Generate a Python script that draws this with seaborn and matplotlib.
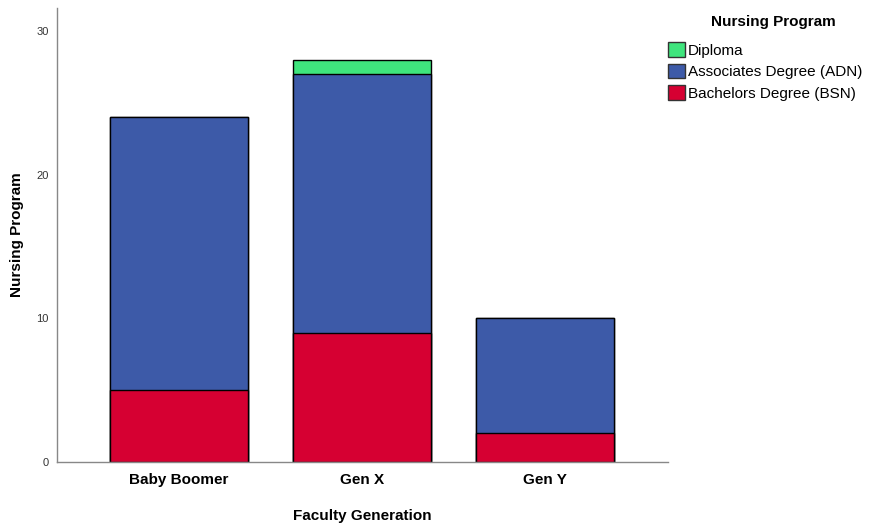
import pandas as pd
import matplotlib
matplotlib.use("Agg")
import matplotlib.pyplot as plt
import seaborn as sns
from matplotlib.patches import Patch

generations = ["Baby Boomer", "Gen X", "Gen Y"]
programs = ["Diploma", "Associates Degree (ADN)", "Bachelors Degree (BSN)"]
diploma = [0, 1, 0]
adn = [19, 18, 8]
bsn = [5, 9, 2]
colors = {"Diploma": "#3FE57D", "Associates Degree (ADN)": "#3D5AA8",
          "Bachelors Degree (BSN)": "#D60032"}

sns.set_style("white")
plt.rcParams['font.family'] = ['Liberation Sans', 'DejaVu Sans']
plt.rcParams['text.color'] = 'black'
plt.rcParams['axes.labelcolor'] = 'black'

df = pd.DataFrame({"Generation": generations, "Diploma": diploma,
                   "ADN": adn, "BSN": bsn})
# cumulative heights, drawn from the top layer down
df["top_dip"] = df["BSN"] + df["ADN"] + df["Diploma"]
df["top_adn"] = df["BSN"] + df["ADN"]
df["top_bsn"] = df["BSN"]

fig = plt.figure(figsize=(8.83, 5.24), dpi=100)
ax = fig.add_axes([0.0646, 0.1183, 0.692, 0.8664])

for col, prog in [("top_dip", programs[0]), ("top_adn", programs[1]), ("top_bsn", programs[2])]:
    sns.barplot(data=df, x="Generation", y=col, color=colors[prog], saturation=1,
                width=0.754, edgecolor="black", linewidth=1, ax=ax, errorbar=None)

ax.set_xlim(-0.667, 2.672)
ax.set_ylim(0, 31.6)
ax.set_yticks([0, 10, 20, 30])
ax.tick_params(axis="y", labelsize=8, colors="#333333", length=0, pad=6)
ax.tick_params(axis="x", labelsize=11, length=0, pad=8, labelcolor="black")
for lab in ax.get_xticklabels():
    lab.set_fontweight("bold")
ax.set_xlabel("Faculty Generation", fontsize=11, fontweight="bold", labelpad=16)
ax.set_ylabel("Nursing Program", fontsize=11, fontweight="bold", labelpad=9)
sns.despine(ax=ax)
for s in ["left", "bottom"]:
    ax.spines[s].set_color("#888888")
    ax.spines[s].set_linewidth(1)

# legend title placed separately to match the wider gap
fig.text(773 / 883, 1 - 22 / 524, "Nursing Program", ha="center", va="center",
         fontsize=11, fontweight="bold")
handles = [Patch(facecolor=colors[p], edgecolor="#333333", label=p) for p in programs]
leg = fig.legend(handles=handles, loc="upper left",
                 bbox_to_anchor=(0.7565, 0.919), frameon=False, fontsize=11,
                 borderaxespad=0, borderpad=0,
                 handlelength=1.1, handleheight=1.1, handletextpad=0.2,
                 labelspacing=0.38)

fig.savefig("out.png", dpi=100)
